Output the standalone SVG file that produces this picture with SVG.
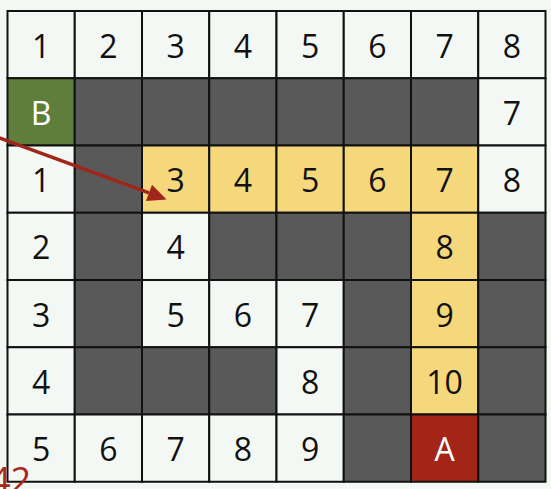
<svg xmlns="http://www.w3.org/2000/svg" width="551" height="489" viewBox="0 0 551 489">
<style>
.c{stroke:#111;stroke-width:2}
.w{fill:#f4f8f4}
.d{fill:#595959}
.y{fill:#f5d87b}
.g{fill:#5f7e3b}
.r{fill:#a32518}
text{font-family:"Open Sans","Liberation Sans",sans-serif;font-size:32px;text-anchor:middle;fill:#111}
.lt{fill:#ffffff}
</style>
<defs>
<marker id="ah" markerUnits="userSpaceOnUse" markerWidth="20" markerHeight="20" viewBox="0 -8 16 16" refX="0" refY="0" orient="auto" overflow="visible">
<path d="M0,-7 L15,0 L0,7 z" fill="#a0261b"/>
</marker>
</defs>
<rect x="0" y="0" width="551" height="489" fill="#f4f8f4"/>
<g id="cells">
<g id="r0c0"><rect class="c w" x="7.5" y="11" width="67.25" height="67.25"/><text x="41.1" y="57.6">1</text></g>
<g id="r0c1"><rect class="c w" x="74.75" y="11" width="67.25" height="67.25"/><text x="108.4" y="57.6">2</text></g>
<g id="r0c2"><rect class="c w" x="142" y="11" width="67.25" height="67.25"/><text x="175.6" y="57.6">3</text></g>
<g id="r0c3"><rect class="c w" x="209.25" y="11" width="67.25" height="67.25"/><text x="242.9" y="57.6">4</text></g>
<g id="r0c4"><rect class="c w" x="276.5" y="11" width="67.25" height="67.25"/><text x="310.1" y="57.6">5</text></g>
<g id="r0c5"><rect class="c w" x="343.75" y="11" width="67.25" height="67.25"/><text x="377.4" y="57.6">6</text></g>
<g id="r0c6"><rect class="c w" x="411" y="11" width="67.25" height="67.25"/><text x="444.6" y="57.6">7</text></g>
<g id="r0c7"><rect class="c w" x="478.25" y="11" width="67.25" height="67.25"/><text x="511.9" y="57.6">8</text></g>

<g id="r1c0"><rect class="c g" x="7.5" y="78.25" width="67.25" height="67.25"/><text class="lt" x="41.1" y="124.9">B</text></g>
<g id="r1c1"><rect class="c d" x="74.75" y="78.25" width="67.25" height="67.25"/></g>
<g id="r1c2"><rect class="c d" x="142" y="78.25" width="67.25" height="67.25"/></g>
<g id="r1c3"><rect class="c d" x="209.25" y="78.25" width="67.25" height="67.25"/></g>
<g id="r1c4"><rect class="c d" x="276.5" y="78.25" width="67.25" height="67.25"/></g>
<g id="r1c5"><rect class="c d" x="343.75" y="78.25" width="67.25" height="67.25"/></g>
<g id="r1c6"><rect class="c d" x="411" y="78.25" width="67.25" height="67.25"/></g>
<g id="r1c7"><rect class="c w" x="478.25" y="78.25" width="67.25" height="67.25"/><text x="511.9" y="124.9">7</text></g>

<g id="r2c0"><rect class="c w" x="7.5" y="145.5" width="67.25" height="67.25"/><text x="41.1" y="192.1">1</text></g>
<g id="r2c1"><rect class="c d" x="74.75" y="145.5" width="67.25" height="67.25"/></g>
<g id="r2c2"><rect class="c y" x="142" y="145.5" width="67.25" height="67.25"/><text x="175.6" y="192.1">3</text></g>
<g id="r2c3"><rect class="c y" x="209.25" y="145.5" width="67.25" height="67.25"/><text x="242.9" y="192.1">4</text></g>
<g id="r2c4"><rect class="c y" x="276.5" y="145.5" width="67.25" height="67.25"/><text x="310.1" y="192.1">5</text></g>
<g id="r2c5"><rect class="c y" x="343.75" y="145.5" width="67.25" height="67.25"/><text x="377.4" y="192.1">6</text></g>
<g id="r2c6"><rect class="c y" x="411" y="145.5" width="67.25" height="67.25"/><text x="444.6" y="192.1">7</text></g>
<g id="r2c7"><rect class="c w" x="478.25" y="145.5" width="67.25" height="67.25"/><text x="511.9" y="192.1">8</text></g>

<g id="r3c0"><rect class="c w" x="7.5" y="212.75" width="67.25" height="67.25"/><text x="41.1" y="259.4">2</text></g>
<g id="r3c1"><rect class="c d" x="74.75" y="212.75" width="67.25" height="67.25"/></g>
<g id="r3c2"><rect class="c w" x="142" y="212.75" width="67.25" height="67.25"/><text x="175.6" y="259.4">4</text></g>
<g id="r3c3"><rect class="c d" x="209.25" y="212.75" width="67.25" height="67.25"/></g>
<g id="r3c4"><rect class="c d" x="276.5" y="212.75" width="67.25" height="67.25"/></g>
<g id="r3c5"><rect class="c d" x="343.75" y="212.75" width="67.25" height="67.25"/></g>
<g id="r3c6"><rect class="c y" x="411" y="212.75" width="67.25" height="67.25"/><text x="444.6" y="259.4">8</text></g>
<g id="r3c7"><rect class="c d" x="478.25" y="212.75" width="67.25" height="67.25"/></g>

<g id="r4c0"><rect class="c w" x="7.5" y="280" width="67.25" height="67.25"/><text x="41.1" y="326.6">3</text></g>
<g id="r4c1"><rect class="c d" x="74.75" y="280" width="67.25" height="67.25"/></g>
<g id="r4c2"><rect class="c w" x="142" y="280" width="67.25" height="67.25"/><text x="175.6" y="326.6">5</text></g>
<g id="r4c3"><rect class="c w" x="209.25" y="280" width="67.25" height="67.25"/><text x="242.9" y="326.6">6</text></g>
<g id="r4c4"><rect class="c w" x="276.5" y="280" width="67.25" height="67.25"/><text x="310.1" y="326.6">7</text></g>
<g id="r4c5"><rect class="c d" x="343.75" y="280" width="67.25" height="67.25"/></g>
<g id="r4c6"><rect class="c y" x="411" y="280" width="67.25" height="67.25"/><text x="444.6" y="326.6">9</text></g>
<g id="r4c7"><rect class="c d" x="478.25" y="280" width="67.25" height="67.25"/></g>

<g id="r5c0"><rect class="c w" x="7.5" y="347.25" width="67.25" height="67.25"/><text x="41.1" y="393.9">4</text></g>
<g id="r5c1"><rect class="c d" x="74.75" y="347.25" width="67.25" height="67.25"/></g>
<g id="r5c2"><rect class="c d" x="142" y="347.25" width="67.25" height="67.25"/></g>
<g id="r5c3"><rect class="c d" x="209.25" y="347.25" width="67.25" height="67.25"/></g>
<g id="r5c4"><rect class="c w" x="276.5" y="347.25" width="67.25" height="67.25"/><text x="310.1" y="393.9">8</text></g>
<g id="r5c5"><rect class="c d" x="343.75" y="347.25" width="67.25" height="67.25"/></g>
<g id="r5c6"><rect class="c y" x="411" y="347.25" width="67.25" height="67.25"/><text x="444.6" y="393.9">10</text></g>
<g id="r5c7"><rect class="c d" x="478.25" y="347.25" width="67.25" height="67.25"/></g>

<g id="r6c0"><rect class="c w" x="7.5" y="414.5" width="67.25" height="67.25"/><text x="41.1" y="461.1">5</text></g>
<g id="r6c1"><rect class="c w" x="74.75" y="414.5" width="67.25" height="67.25"/><text x="108.4" y="461.1">6</text></g>
<g id="r6c2"><rect class="c w" x="142" y="414.5" width="67.25" height="67.25"/><text x="175.6" y="461.1">7</text></g>
<g id="r6c3"><rect class="c w" x="209.25" y="414.5" width="67.25" height="67.25"/><text x="242.9" y="461.1">8</text></g>
<g id="r6c4"><rect class="c w" x="276.5" y="414.5" width="67.25" height="67.25"/><text x="310.1" y="461.1">9</text></g>
<g id="r6c5"><rect class="c d" x="343.75" y="414.5" width="67.25" height="67.25"/></g>
<g id="r6c6"><rect class="c r" x="411" y="414.5" width="67.25" height="67.25"/><text class="lt" x="444.6" y="461.1">A</text></g>
<g id="r6c7"><rect class="c d" x="478.25" y="414.5" width="67.25" height="67.25"/></g>
</g>
<g id="connectors">
<line x1="-2" y1="137.3" x2="149" y2="192.9" stroke="#a0261b" stroke-width="3.5" marker-end="url(#ah)"/>
</g>
<text x="-10" y="493" style="font-size:36px;text-anchor:start;fill:#a8281b">42</text>
</svg>
